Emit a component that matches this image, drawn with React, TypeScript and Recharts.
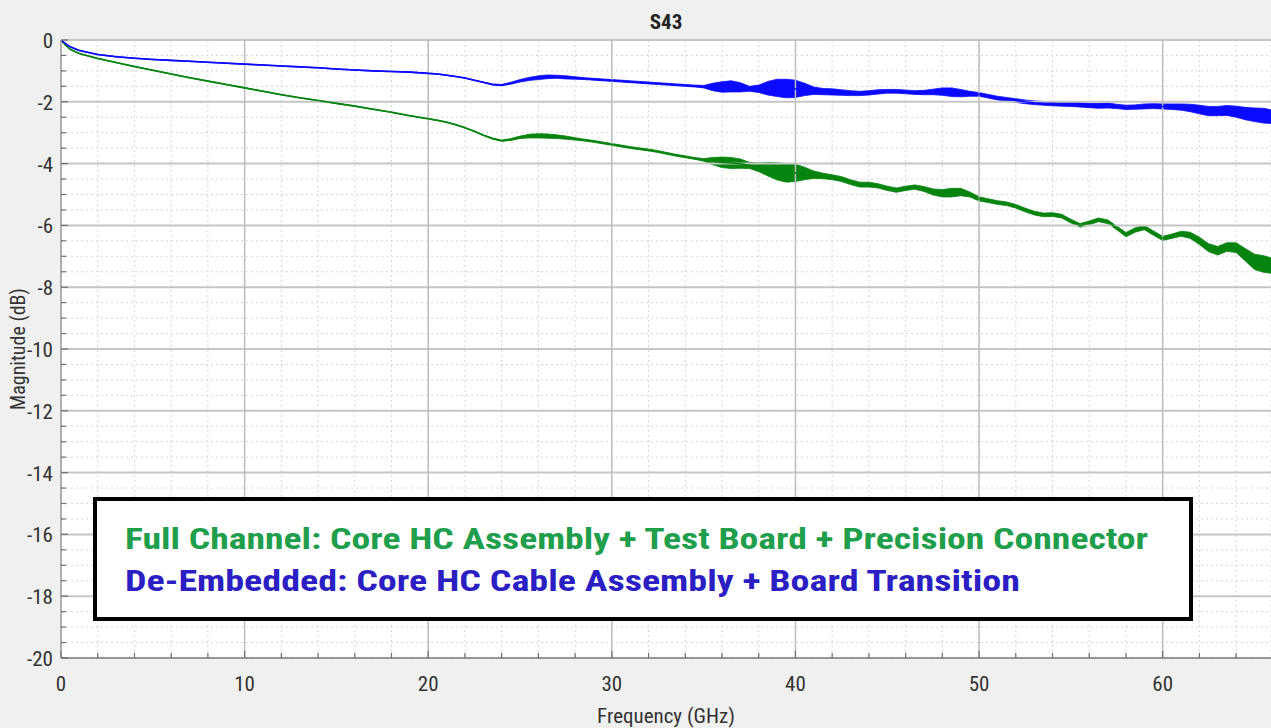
import {
  Area,
  CartesianGrid,
  ComposedChart,
  Customized,
  Legend,
  Line,
  ReferenceLine,
  XAxis,
  YAxis,
} from "recharts";

const CHART_W = 1271;
const CHART_H = 728;

const GREEN = "#07840f";
const BLUE = "#0a0aff";
const GREEN_TEXT = "#1f9e4c";
const BLUE_TEXT = "#2b1fc4";
const AXIS_FONT =
  "'Liberation Sans Narrow', 'Arial Narrow', 'Roboto Condensed', 'DejaVu Sans Condensed', 'Liberation Sans', sans-serif";
const LEGEND_FONT = "'Roboto Condensed', 'Liberation Sans Narrow', 'DejaVu Sans Condensed', sans-serif";

const TITLE = "S43";
const X_LABEL = "Frequency (GHz)";
const Y_LABEL = "Magnitude (dB)";
const FULL_LABEL = "Full Channel: Core HC Assembly + Test Board + Precision Connector";
const DEEMB_LABEL = "De-Embedded: Core HC Cable Assembly + Board Transition";

// frequency points (GHz)
const freq = [
  0, 0.25, 0.5, 1, 2, 3, 4, 5, 6, 7, 8, 9, 10, 11, 12, 13, 14, 15, 16, 17, 18, 19, 20,
  20.5, 21, 21.5, 22, 22.5, 23, 23.5, 24, 24.5, 25,
  25.5, 26, 26.5, 27, 27.5, 28, 28.5, 29, 29.5, 30,
  30.5, 31, 31.5, 32, 32.5, 33, 33.5, 34, 34.5, 35,
  35.5, 36, 36.5, 37, 37.5, 38, 38.5, 39, 39.5, 40,
  40.5, 41, 41.5, 42, 42.5, 43, 43.5, 44, 44.5, 45,
  45.5, 46, 46.5, 47, 47.5, 48, 48.5, 49, 49.5, 50,
  50.5, 51, 51.5, 52, 52.5, 53, 53.5, 54, 54.5, 55,
  55.5, 56, 56.5, 57, 57.5, 58, 58.5, 59, 59.5, 60,
  60.5, 61, 61.5, 62, 62.5, 63, 63.5, 64, 64.5, 65,
  65.5, 65.9,
];

// full channel, dB (green)
const fullChannel = [
  0, -0.17, -0.3, -0.44, -0.6, -0.73, -0.86, -0.98, -1.1, -1.22, -1.33, -1.44, -1.55, -1.66, -1.77, -1.87, -1.96, -2.05, -2.14, -2.24, -2.34, -2.45, -2.55,
  -2.6, -2.66, -2.74, -2.84, -2.95, -3.08, -3.19, -3.26, -3.22, -3.15,
  -3.11, -3.1, -3.11, -3.13, -3.16, -3.2, -3.24, -3.28, -3.33, -3.38,
  -3.43, -3.48, -3.52, -3.56, -3.61, -3.67, -3.73, -3.78, -3.83, -3.88,
  -3.92, -3.96, -3.98, -4.0, -4.06, -4.12, -4.18, -4.25, -4.3, -4.3,
  -4.32, -4.36, -4.4, -4.44, -4.5, -4.6, -4.68, -4.68, -4.72, -4.8,
  -4.86, -4.8, -4.76, -4.82, -4.92, -4.96, -4.94, -4.92, -5.0, -5.14,
  -5.2, -5.26, -5.3, -5.38, -5.5, -5.6, -5.66, -5.65, -5.7, -5.86,
  -6.0, -5.92, -5.82, -5.88, -6.08, -6.3, -6.15, -6.07, -6.25, -6.42,
  -6.35, -6.27, -6.32, -6.5, -6.72, -6.82, -6.7, -6.72, -6.95, -7.18,
  -7.25, -7.3,
];

// half-width of the measurement ripple on the full channel trace, dB
const fullRipple = [
  0.01, 0.01, 0.01, 0.01, 0.01, 0.01, 0.01, 0.01, 0.01, 0.01, 0.01, 0.01, 0.01, 0.01, 0.01, 0.01, 0.01, 0.01, 0.01, 0.01, 0.01, 0.01, 0.01,
  0.01, 0.01, 0.01, 0.01, 0.01, 0.01, 0.02, 0.02, 0.03, 0.04,
  0.06, 0.07, 0.07, 0.06, 0.05, 0.04, 0.03, 0.03, 0.03, 0.03,
  0.03, 0.03, 0.03, 0.03, 0.03, 0.03, 0.03, 0.03, 0.03, 0.04,
  0.12, 0.17, 0.18, 0.15, 0.1, 0.14, 0.22, 0.28, 0.3, 0.28,
  0.2, 0.12, 0.09, 0.08, 0.08, 0.08, 0.08, 0.08, 0.07, 0.07,
  0.07, 0.07, 0.07, 0.08, 0.1, 0.12, 0.14, 0.12, 0.08, 0.07,
  0.06, 0.06, 0.06, 0.06, 0.06, 0.06, 0.06, 0.06, 0.06, 0.06,
  0.06, 0.06, 0.06, 0.06, 0.06, 0.07, 0.07, 0.07, 0.07, 0.07,
  0.07, 0.08, 0.1, 0.12, 0.13, 0.14, 0.14, 0.16, 0.2, 0.25,
  0.27, 0.25,
];

// de-embedded, dB (blue)
const deEmbedded = [
  0, -0.12, -0.22, -0.34, -0.47, -0.54, -0.59, -0.63, -0.66, -0.69, -0.72, -0.75, -0.78, -0.81, -0.84, -0.87, -0.9, -0.94, -0.97, -1.0, -1.02, -1.04, -1.08,
  -1.1, -1.14, -1.18, -1.23, -1.3, -1.37, -1.44, -1.46, -1.4, -1.32,
  -1.26, -1.22, -1.19, -1.19, -1.21, -1.23, -1.25, -1.27, -1.29, -1.31,
  -1.33, -1.35, -1.37, -1.39, -1.41, -1.43, -1.45, -1.47, -1.49, -1.51,
  -1.52, -1.52, -1.5, -1.53, -1.58, -1.58, -1.56, -1.55, -1.57, -1.58,
  -1.6, -1.64, -1.67, -1.68, -1.7, -1.72, -1.73, -1.71, -1.68, -1.66,
  -1.66, -1.68, -1.7, -1.7, -1.68, -1.67, -1.69, -1.72, -1.74, -1.76,
  -1.82, -1.88, -1.92, -1.96, -2.0, -2.03, -2.05, -2.06, -2.07, -2.08,
  -2.1, -2.12, -2.13, -2.12, -2.15, -2.18, -2.17, -2.15, -2.14, -2.15,
  -2.16, -2.17, -2.2, -2.25, -2.3, -2.3, -2.28, -2.32, -2.38, -2.42,
  -2.45, -2.48,
];

const deEmbeddedRipple = [
  0.01, 0.01, 0.01, 0.01, 0.01, 0.01, 0.01, 0.01, 0.01, 0.01, 0.01, 0.01, 0.01, 0.01, 0.01, 0.01, 0.01, 0.01, 0.01, 0.01, 0.01, 0.01, 0.01,
  0.01, 0.01, 0.01, 0.01, 0.01, 0.01, 0.02, 0.02, 0.03, 0.04,
  0.05, 0.06, 0.06, 0.05, 0.05, 0.04, 0.03, 0.03, 0.03, 0.03,
  0.03, 0.03, 0.03, 0.03, 0.03, 0.03, 0.03, 0.03, 0.03, 0.04,
  0.12, 0.17, 0.18, 0.15, 0.08, 0.12, 0.22, 0.28, 0.3, 0.28,
  0.2, 0.12, 0.1, 0.1, 0.09, 0.08, 0.07, 0.07, 0.07, 0.06,
  0.06, 0.06, 0.06, 0.07, 0.09, 0.12, 0.14, 0.12, 0.08, 0.06,
  0.06, 0.06, 0.06, 0.06, 0.06, 0.06, 0.06, 0.07, 0.07, 0.07,
  0.07, 0.07, 0.08, 0.08, 0.07, 0.07, 0.07, 0.08, 0.08, 0.08,
  0.09, 0.1, 0.12, 0.14, 0.15, 0.15, 0.16, 0.18, 0.2, 0.22,
  0.24, 0.22,
];

const xMajorTicks = [0, 10, 20, 30, 40, 50, 60];
const yMajorTicks = [-20, -18, -16, -14, -12, -10, -8, -6, -4, -2, 0];
const xMinorTicks = Array.from({ length: 33 }, (_, i) => i * 2);
const yMinorTicks = Array.from({ length: 41 }, (_, i) => -20 + i * 0.5);

const data = freq.map((f, i) => ({
  freq: f,
  full: fullChannel[i],
  fullBand: [fullChannel[i] - fullRipple[i], fullChannel[i] + fullRipple[i]],
  deemb: deEmbedded[i],
  deembBand: [deEmbedded[i] - deEmbeddedRipple[i], deEmbedded[i] + deEmbeddedRipple[i]],
}));

function XTick(props: any) {
  const { x, y, payload } = props;
  const major = xMajorTicks.includes(payload.value);
  return (
    <g>
      <line x1={x} y1={y} x2={x} y2={y - (major ? 7 : 5)} stroke="#6e6e6e" strokeWidth={1.2} />
      {major && (
        <text
          x={x}
          y={y + 26}
          textAnchor="middle"
          dominantBaseline="central"
          fill="#333"
          fontSize={21}
          fontFamily={AXIS_FONT}
        >
          {payload.value}
        </text>
      )}
    </g>
  );
}

function YTick(props: any) {
  const { x, y, payload } = props;
  const major = yMajorTicks.includes(payload.value);
  return (
    <g>
      <line x1={x} y1={y} x2={x + (major ? 7 : 5)} y2={y} stroke="#6e6e6e" strokeWidth={1.2} />
      {major && (
        <text
          x={x - 8}
          y={y + 1}
          textAnchor="end"
          dominantBaseline="central"
          fill="#333"
          fontSize={21}
          fontFamily={AXIS_FONT}
        >
          {payload.value}
        </text>
      )}
    </g>
  );
}

function Titles() {
  return (
    <g>
      <text
        x={666}
        y={22}
        textAnchor="middle"
        dominantBaseline="central"
        fontWeight="bold"
        fontSize={21}
        fill="#222"
        fontFamily={AXIS_FONT}
      >
        {TITLE}
      </text>
      <text
        transform="translate(18,349) rotate(-90)"
        textAnchor="middle"
        dominantBaseline="central"
        fontSize={20}
        fill="#333"
        fontFamily={AXIS_FONT}
      >
        {Y_LABEL}
      </text>
    </g>
  );
}

function LegendBox() {
  return (
    <svg width={1100} height={124} style={{ display: "block" }}>
      <rect x={2} y={2} width={1096} height={120} fill="#fff" stroke="#000" strokeWidth={4} />
      <text
        x={32}
        y={52}
        fill={GREEN_TEXT}
        fontSize={30}
        fontWeight="bold"
        fontFamily={LEGEND_FONT}
        textLength={1023}
        lengthAdjust="spacingAndGlyphs"
      >
        {FULL_LABEL}
      </text>
      <text
        x={32}
        y={94}
        fill={BLUE_TEXT}
        fontSize={30}
        fontWeight="bold"
        fontFamily={LEGEND_FONT}
        textLength={895}
        lengthAdjust="spacingAndGlyphs"
      >
        {DEEMB_LABEL}
      </text>
    </svg>
  );
}

export default function App() {
  return (
    <div
      style={{
        position: "fixed",
        left: 0,
        top: 0,
        width: CHART_W,
        height: CHART_H,
        background: "#f0f0f0",
      }}
    >
      <ComposedChart
        width={CHART_W}
        height={CHART_H}
        data={data}
        margin={{ top: 40, right: 0, bottom: 0, left: 0 }}
      >
        <CartesianGrid fill="#fff" stroke="#d6d6d6" strokeDasharray="2 3" />
        <XAxis
          dataKey="freq"
          type="number"
          domain={[0, 65.9]}
          allowDataOverflow
          ticks={xMinorTicks}
          interval={0}
          height={70}
          tickSize={0}
          tickMargin={0}
          tickLine={false}
          tick={XTick}
          axisLine={{ stroke: "#777", strokeWidth: 1.5 }}
          label={{
            value: X_LABEL,
            position: "insideBottom",
            offset: 5,
            fill: "#333",
            fontSize: 21,
            fontFamily: AXIS_FONT,
          }}
        />
        <YAxis
          type="number"
          domain={[-20, 0]}
          allowDataOverflow
          ticks={yMinorTicks}
          interval={0}
          width={61}
          tickSize={0}
          tickMargin={0}
          tickLine={false}
          tick={YTick}
          axisLine={{ stroke: "#999", strokeWidth: 1.5 }}
        />
        {yMajorTicks
          .filter((v) => v !== -20)
          .map((v) => (
            <ReferenceLine key={`y${v}`} y={v} stroke="#c6c6c6" strokeWidth={2} />
          ))}
        {xMajorTicks
          .filter((v) => v !== 0)
          .map((v) => (
            <ReferenceLine key={`x${v}`} x={v} stroke="#bdbdbd" strokeWidth={1.5} />
          ))}
        <Area
          type="linear"
          dataKey="fullBand"
          stroke={GREEN}
          strokeWidth={0.8}
          fill={GREEN}
          fillOpacity={1}
          activeDot={false}
          isAnimationActive={false}
        />
        <Line
          type="linear"
          dataKey="full"
          stroke={GREEN}
          strokeWidth={1.6}
          dot={false}
          activeDot={false}
          isAnimationActive={false}
        />
        <Area
          type="linear"
          dataKey="deembBand"
          stroke={BLUE}
          strokeWidth={0.8}
          fill={BLUE}
          fillOpacity={1}
          activeDot={false}
          isAnimationActive={false}
        />
        <Line
          type="linear"
          dataKey="deemb"
          stroke={BLUE}
          strokeWidth={1.6}
          dot={false}
          activeDot={false}
          isAnimationActive={false}
        />
        <Customized component={Titles} />
        <Legend
          layout="horizontal"
          verticalAlign="middle"
          align="center"
          content={() => <LegendBox />}
          wrapperStyle={{ left: 93, top: 497, width: 1100, height: 124 }}
        />
      </ComposedChart>
    </div>
  );
}
